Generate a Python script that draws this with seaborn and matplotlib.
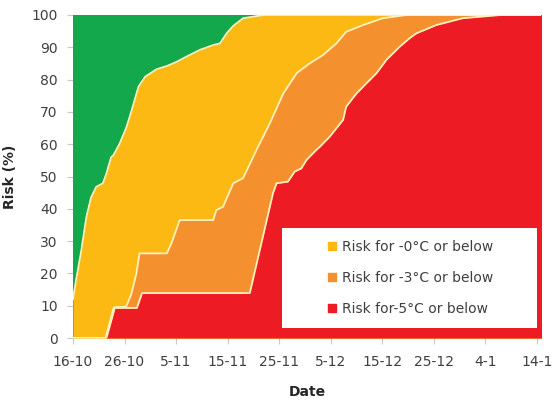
import numpy as np
import pandas as pd
import seaborn as sns
import matplotlib
matplotlib.use("Agg")
import matplotlib.pyplot as plt
from matplotlib.lines import Line2D
from matplotlib.patches import Rectangle

# ---- data (days after 16-10, risk %) ----
tick_days = [0, 10, 20, 30, 40, 50, 60, 70, 80, 90]
tick_labels = ["16-10", "26-10", "5-11", "15-11", "25-11", "5-12", "15-12", "25-12", "4-1", "14-1"]
y_ticks = [0, 10, 20, 30, 40, 50, 60, 70, 80, 90, 100]

days_0 = [0, 0.6, 1.6, 2.6, 3.5, 4.5, 5.8, 6.5, 7.4, 7.8, 9.0, 10.4, 11.4, 12.7, 14.0,
          16.2, 18.2, 20.1, 22.0, 24.6, 27.2, 28.5, 29.8, 31.0, 33.0, 37.0, 91]
risk_0 = [12, 18, 27, 37.5, 43.5, 46.8, 47.9, 51, 56, 56.5, 60, 65.4, 70.6, 77.8, 80.9,
          83.2, 84.2, 85.5, 87.1, 89.2, 90.7, 91.2, 94.3, 96.5, 99, 100, 100]

days_3 = [0, 6.3, 7.9, 10.3, 11.3, 12.3, 12.9, 18.2, 19.1, 20.7, 27.2, 27.8, 29.1, 29.8,
          31.1, 33.0, 35.6, 38.2, 40.8, 43.4, 45.9, 48.5, 51.1, 53.0, 56.3, 60.1, 64.7, 91]
risk_3 = [0, 0, 9.5, 9.7, 13.5, 20, 26.2, 26.2, 29.3, 36.5, 36.5, 39.6, 40.6, 43.2,
          47.9, 49.5, 58.2, 66.5, 75.7, 82, 85, 87.6, 91.2, 94.8, 96.9, 99, 100, 100]

days_5 = [0, 6.5, 8.1, 12.4, 13.4, 34.3, 38.8, 39.5, 41.7, 43.0, 44.3, 45.3, 47.2, 47.9,
          49.8, 52.4, 53.0, 55.0, 56.9, 58.9, 60.8, 63.4, 65.3, 66.6, 70.5, 75.6, 83, 91]
risk_5 = [0, 0, 9.3, 9.3, 13.9, 13.9, 44.8, 47.9, 48.4, 51.5, 52.5, 55.1, 58.2, 59.2,
          62.3, 67.5, 71.6, 75.7, 78.8, 82, 86.1, 90.2, 92.8, 94.3, 96.9, 99, 100, 100]

labels = ["Risk for -0°C or below", "Risk for -3°C or below", "Risk for-5°C or below"]
colors = ["#FDB913", "#F5902E", "#ED1C24"]
green = "#12A84B"
edge = "#FFF0BE"

sns.set_theme(style="white")
plt.rcParams["font.family"] = ["DejaVu Sans"]

fig = plt.figure(figsize=(5.57, 4.05), dpi=100)
ax = fig.add_axes([73 / 557, 67 / 405, 468 / 557, 323 / 405])

ax.fill_between([0, 91], [100, 100], 0, color=green, lw=0, zorder=1)
series = [(days_0, risk_0), (days_3, risk_3), (days_5, risk_5)]
for (d, r), c in zip(series, colors):
    ax.fill_between(d, r, 0, color=c, lw=0, zorder=2)
for (d, r) in series:
    df = pd.DataFrame({"day": d, "risk": r})
    sns.lineplot(data=df, x="day", y="risk", ax=ax, color=edge, lw=1.3,
                 estimator=None, sort=False, zorder=3)

ax.set_xlim(0, 90.8)
ax.set_ylim(0, 100)
ax.set_xticks(tick_days)
ax.set_xticklabels(tick_labels)
ax.set_yticks(y_ticks)
for s in ax.spines.values():
    s.set_visible(False)
ax.tick_params(axis="both", colors="#C8C8C8", labelcolor="#404040", labelsize=10,
               length=4, width=0.8)
ax.tick_params(axis="x", pad=8, direction="out", bottom=True)
ax.tick_params(axis="y", pad=7, direction="out", left=True)
ax.set_xlabel("Date", fontsize=10, fontweight="bold", color="#262626", labelpad=12)
ax.set_ylabel("Risk (%)", fontsize=10, fontweight="bold", color="#262626", labelpad=10)

# legend box
ax.add_patch(Rectangle((0.447, 0.031), 0.544, 0.31, transform=ax.transAxes,
                       facecolor="white", edgecolor="none", zorder=5))
handles = [Line2D([], [], marker="s", ls="", color=c, markersize=6) for c in colors]
leg = ax.legend(handles, labels, loc="center", bbox_to_anchor=(0.719, 0.186),
                frameon=False, fontsize=10, labelspacing=1.2, handletextpad=0.3,
                handlelength=0.8, labelcolor="#404040")
leg.set_zorder(6)

fig.savefig("out.png", dpi=100)
